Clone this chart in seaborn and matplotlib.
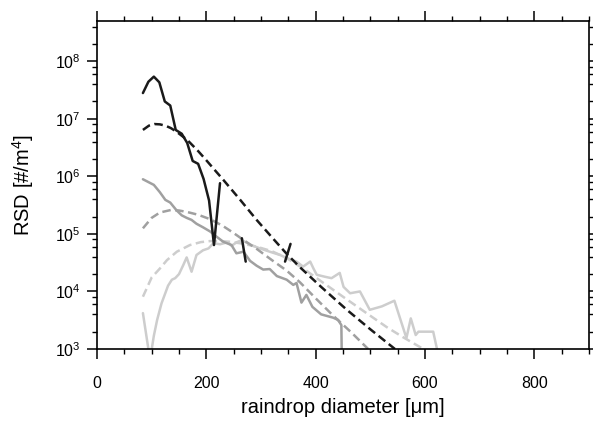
import numpy as np
import pandas as pd
import matplotlib
matplotlib.use("Agg")
import matplotlib.pyplot as plt
import seaborn as sns
from matplotlib.ticker import MultipleLocator, LogLocator, NullFormatter, LogFormatterSciNotation

# ---------------- data ----------------
# observed RSD, dark series (NaN = no drops in bin -> gap)
diam_dark_obs = [84, 94, 104, 114, 124, 134, 144, 155, 165, 175, 185, 195, 205, 214, 225,
                 245, 265, 272, 310, 344, 354]
rsd_dark_obs = [2.8e7, 4.4e7, 5.4e7, 4.3e7, 2.0e7, 1.7e7, 6.4e6, 5.5e6, 3.8e6, 1.85e6, 1.65e6,
                9.0e5, 3.8e5, 6.4e4, 7.6e5, np.nan, 8.4e4, 3.3e4, np.nan, 3.3e4, 6.7e4]

# fitted RSD, dark series
diam_dark_fit = [84, 95, 105, 115, 125, 135, 145, 165, 185, 200, 215, 231, 262, 292, 322,
                 347, 371, 410, 457, 500, 545]
rsd_dark_fit = [6.4e6, 7.6e6, 8.1e6, 8.0e6, 7.6e6, 6.9e6, 6.0e6, 4.3e6, 2.75e6, 1.9e6, 1.3e6,
                8.7e5, 3.9e5, 1.75e5, 8.3e4, 4.5e4, 2.65e4, 1.2e4, 4.8e3, 2.2e3, 1.0e3]

# observed RSD, medium grey series
diam_mid_obs = [84, 104, 115, 125, 134, 145, 155, 164, 173, 182, 194, 207, 219, 231, 246, 255,
                268, 280, 292, 304, 316, 329, 347, 359, 365, 374, 383, 394, 410, 432, 441, 447, 449]
rsd_mid_obs = [8.9e5, 7.1e5, 5.3e5, 3.9e5, 3.5e5, 2.6e5, 2.1e5, 1.9e5, 1.75e5, 1.5e5, 1.3e5,
               1.1e5, 8.9e4, 7.3e4, 6.4e4, 4.6e4, 4.9e4, 3.4e4, 2.8e4, 2.4e4, 2.45e4, 1.85e4,
               1.6e4, 1.3e4, 1.4e4, 6.4e3, 8.7e3, 5.4e3, 4.0e3, 3.5e3, 3.2e3, 2.6e3, 1.0e2]

# fitted RSD, medium grey series
diam_mid_fit = [84, 100, 115, 135, 150, 165, 185, 207, 230, 249, 270, 292, 320, 347, 371, 400,
                432, 465, 496]
rsd_mid_fit = [1.25e5, 1.9e5, 2.35e5, 2.6e5, 2.55e5, 2.4e5, 2.15e5, 1.8e5, 1.38e5, 1.05e5,
               7.6e4, 5.5e4, 3.5e4, 2.3e4, 1.45e4, 7.6e3, 3.8e3, 1.95e3, 1.0e3]

# observed RSD, light grey series
diam_light_obs = [84, 97, 104, 110, 118, 130, 137, 143, 150, 158, 164, 173, 182, 194, 204, 213,
                  225, 240, 246, 256, 265, 280, 298, 316, 335, 347, 365, 377, 390, 396, 402, 417,
                  429, 444, 451, 463, 481, 499, 521, 544, 566, 574, 583, 588, 615, 623]
rsd_light_obs = [4.2e3, 6.5e2, 1.7e3, 3.2e3, 6.2e3, 1.26e4, 1.6e4, 1.7e4, 2.0e4, 2.9e4, 3.9e4,
                 2.2e4, 4.3e4, 5.2e4, 5.6e4, 6.9e4, 6.6e4, 7.2e4, 6.2e4, 7.2e4, 7.8e4, 6.5e4,
                 5.6e4, 4.9e4, 4.3e4, 3.8e4, 3.3e4, 2.7e4, 3.3e4, 2.5e4, 1.95e4, 1.8e4, 1.7e4,
                 2.1e4, 1.2e4, 9.3e3, 1.0e4, 4.8e3, 5.5e3, 6.9e3, 1.55e3, 3.4e3, 1.75e3, 2.0e3,
                 2.0e3, 9.0e2]

# fitted RSD, light grey series
diam_light_fit = [84, 100, 115, 128, 146, 170, 190, 207, 225, 243, 265, 292, 320, 347, 380, 410,
                  450, 493, 530, 560, 597]
rsd_light_fit = [8.1e3, 1.75e4, 2.5e4, 3.5e4, 4.9e4, 6.4e4, 7.2e4, 7.5e4, 7.5e4, 7.3e4, 6.8e4,
                 6.0e4, 5.0e4, 3.8e4, 2.4e4, 1.5e4, 8.1e3, 4.2e3, 2.4e3, 1.6e3, 1.0e3]

x_ticks = [0, 200, 400, 600, 800]

# ---------------- style ----------------
sns.set_theme(style="ticks")
plt.rcParams['font.family'] = ['Liberation Sans', 'DejaVu Sans']
plt.rcParams['mathtext.fontset'] = 'custom'
plt.rcParams['mathtext.rm'] = 'Liberation Sans'
plt.rcParams['mathtext.it'] = 'Liberation Sans:italic'
plt.rcParams['mathtext.default'] = 'regular'
plt.rcParams['text.color'] = 'black'
plt.rcParams['axes.labelcolor'] = 'black'
plt.rcParams['xtick.color'] = 'black'
plt.rcParams['ytick.color'] = 'black'
plt.rcParams['xtick.labelcolor'] = 'black'
plt.rcParams['ytick.labelcolor'] = 'black'

DARK = "#1a1a1a"
MID = "#a0a0a0"
LIGHT = "#cdcdcd"
LW = 1.8
DASH = (0, (3.4, 1.8))

fig = plt.figure(figsize=(5.93, 4.22), dpi=100)
ax = fig.add_axes([97 / 593, 73 / 422, 492 / 593, 328 / 422])
ax.set_yscale('log')


def segments(xs, ys):
    """split a series at NaN values so gaps stay gaps"""
    segs, cx, cy = [], [], []
    for x, y in zip(xs, ys):
        if y is None or (isinstance(y, float) and np.isnan(y)):
            if cx:
                segs.append((cx, cy))
            cx, cy = [], []
        else:
            cx.append(x)
            cy.append(y)
    if cx:
        segs.append((cx, cy))
    return segs


def draw(xs, ys, color, dashed):
    for sx, sy in segments(xs, ys):
        df = pd.DataFrame({"d": sx, "n": sy})
        kw = dict(linestyle=DASH) if dashed else {}
        sns.lineplot(data=df, x="d", y="n", ax=ax, color=color, lw=LW,
                     estimator=None, sort=False, legend=False, **kw)


draw(diam_light_obs, rsd_light_obs, LIGHT, False)
draw(diam_light_fit, rsd_light_fit, LIGHT, True)
draw(diam_mid_obs, rsd_mid_obs, MID, False)
draw(diam_mid_fit, rsd_mid_fit, MID, True)
draw(diam_dark_obs, rsd_dark_obs, DARK, False)
draw(diam_dark_fit, rsd_dark_fit, DARK, True)

ax.set_xlim(0, 900)
ax.set_ylim(1e3, 5e8)

ax.set_xticks(x_ticks)
ax.xaxis.set_minor_locator(MultipleLocator(50))
ax.yaxis.set_major_locator(LogLocator(base=10, numticks=20))
ax.yaxis.set_minor_locator(LogLocator(base=10, subs=(2, 4, 6, 8), numticks=20))
ax.yaxis.set_major_formatter(LogFormatterSciNotation())
ax.yaxis.set_minor_formatter(NullFormatter())

for s in ax.spines.values():
    s.set_linewidth(1.2)
    s.set_color("black")
    s.set_visible(True)

ax.tick_params(which='both', direction='out', top=True, right=True, color='black')
ax.tick_params(which='major', length=7.5, width=1.1, labelsize=11.5, labelcolor='black')
ax.tick_params(which='minor', length=3.6, width=1.0)
ax.tick_params(axis='x', which='major', pad=12)
ax.tick_params(axis='y', which='major', pad=4)

ax.set_xlabel("raindrop diameter [μm]", fontsize=14.5, labelpad=5, color='black')
ax.set_ylabel("RSD [#/m$^4$]", fontsize=14.5, labelpad=14, color='black')

fig.savefig("out.png", dpi=100, facecolor="white")
